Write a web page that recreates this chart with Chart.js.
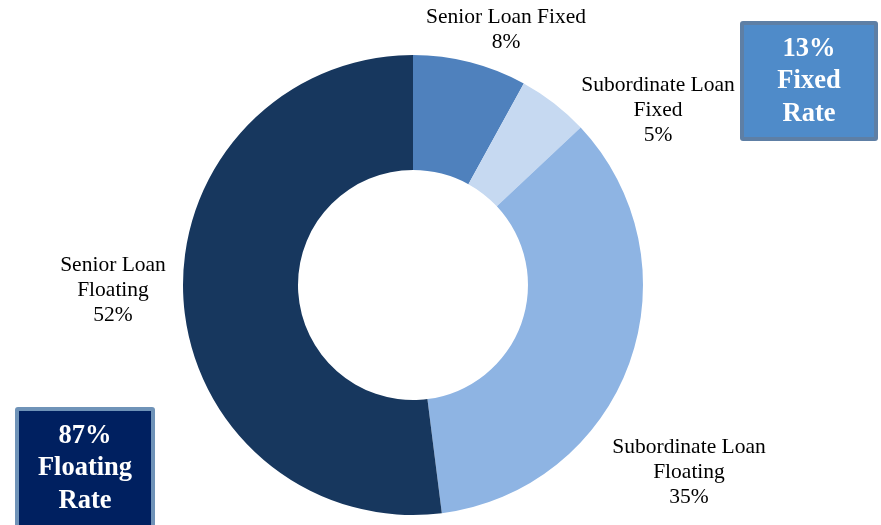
<!DOCTYPE html>
<html lang="en">
<head>
    <meta charset="UTF-8">
    <title>Loan Mix</title>
    <script src="https://cdn.jsdelivr.net/npm/chart.js"></script>
    <style>
        html, body { margin: 0; padding: 0; background: #ffffff; }
        .wrap { width: 881px; height: 525px; position: relative; }
    </style>
</head>
<body>
    <div class="wrap">
        <canvas id="mixChart" width="881" height="525"></canvas>
    </div>

    <script>
        // loan mix by type
        const categories = [
            ['Senior Loan Fixed'],
            ['Subordinate Loan', 'Fixed'],
            ['Subordinate Loan', 'Floating'],
            ['Senior Loan', 'Floating']
        ];
        const shares = [8, 5, 35, 52];
        const sliceColors = ['#4F81BD', '#C6D9F1', '#8EB4E3', '#17375E'];

        // where each slice label sits (text block center)
        const labelPos = [
            { x: 506, y: 17 },
            { x: 658, y: 85 },
            { x: 689, y: 447 },
            { x: 113, y: 265 }
        ];

        // summary boxes
        const summaryBoxes = [
            { lines: ['13%', 'Fixed', 'Rate'], x: 740, y: 21, w: 138, h: 120, fill: '#4F8BC9', border: '#5E7FA5', textTop: 49 },
            { lines: ['87%', 'Floating', 'Rate'], x: 15, y: 407, w: 140, h: 122, fill: '#002060', border: '#6F93B8', textTop: 436 }
        ];

        const sliceLabels = {
            id: 'sliceLabels',
            afterDraw(chart) {
                const ctx = chart.ctx;
                ctx.save();
                ctx.fillStyle = '#000000';
                ctx.font = '21.5px "Liberation Serif", "Times New Roman", serif';
                ctx.textAlign = 'center';
                ctx.textBaseline = 'middle';
                chart.getDatasetMeta(0).data.forEach((arc, i) => {
                    const lines = categories[i].concat([shares[i] + '%']);
                    const p = labelPos[i];
                    lines.forEach((t, j) => ctx.fillText(t, p.x, p.y + j * 25));
                });
                ctx.restore();
            }
        };

        const boxes = {
            id: 'boxes',
            afterDraw(chart) {
                const ctx = chart.ctx;
                ctx.save();
                summaryBoxes.forEach(b => {
                    ctx.fillStyle = b.border;
                    ctx.beginPath();
                    ctx.roundRect(b.x, b.y, b.w, b.h, 3);
                    ctx.fill();
                    ctx.fillStyle = b.fill;
                    ctx.fillRect(b.x + 4, b.y + 4, b.w - 8, b.h - 8);
                    ctx.fillStyle = '#ffffff';
                    ctx.font = 'bold 26.5px "Liberation Serif", "Times New Roman", serif';
                    ctx.textAlign = 'center';
                    ctx.textBaseline = 'middle';
                    b.lines.forEach((t, j) => ctx.fillText(t, b.x + b.w / 2, b.textTop + j * 32.5));
                });
                ctx.restore();
            }
        };

        new Chart(document.getElementById('mixChart'), {
            type: 'doughnut',
            data: {
                labels: categories.map(c => c.join(' ')),
                datasets: [{
                    data: shares,
                    backgroundColor: sliceColors,
                    borderWidth: 0
                }]
            },
            options: {
                responsive: false,
                animation: false,
                cutout: '50%',
                layout: { padding: { top: 55, bottom: 10, left: 183, right: 238 } },
                plugins: {
                    legend: { display: false },
                    tooltip: { enabled: false }
                }
            },
            plugins: [sliceLabels, boxes]
        });
    </script>
</body>
</html>
